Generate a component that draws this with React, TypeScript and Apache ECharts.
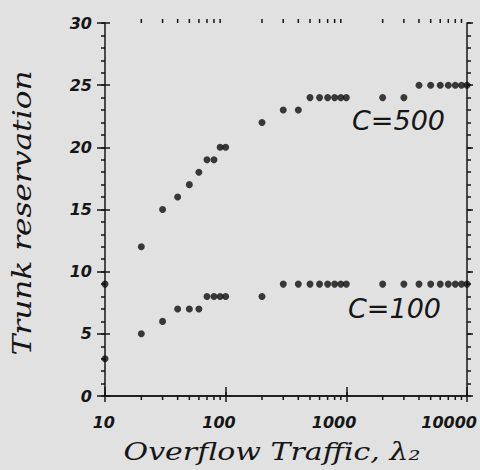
import React, { useEffect, useRef } from "react";
import * as echarts from "echarts";

// Overflow traffic (x, log scale)
const traffic = [
  10, 20, 30, 40, 50, 60, 70, 80, 90, 100,
  200, 300, 400, 500, 600, 700, 800, 900, 1000,
  2000, 3000, 4000, 5000, 6000, 7000, 8000, 9000, 10000,
];
// Trunk reservation for C=500
const reservationC500 = [
  9, 12, 15, 16, 17, 18, 19, 19, 20, 20,
  22, 23, 23, 24, 24, 24, 24, 24, 24,
  24, 24, 25, 25, 25, 25, 25, 25, 25,
];
// Trunk reservation for C=100
const reservationC100 = [
  3, 5, 6, 7, 7, 7, 8, 8, 8, 8,
  8, 9, 9, 9, 9, 9, 9, 9, 9,
  9, 9, 9, 9, 9, 9, 9, 9, 9,
];
// Minor (log) tick values on the x axis
const xMinorTicks = [
  20, 30, 40, 50, 60, 70, 80, 90,
  200, 300, 400, 500, 600, 700, 800, 900,
  2000, 3000, 4000, 5000, 6000, 7000, 8000, 9000,
];
const seriesNames = ["C=500", "C=100"];
const xTitle = "Overflow Traffic, λ₂";
const yTitle = "Trunk reservation";

const INK = "#161616";
const tickFont = {
  fontFamily: "DejaVu Sans",
  fontWeight: "bold" as const,
  fontStyle: "italic" as const,
  fontSize: 16,
  color: INK,
};
const line = { color: INK, width: 1.5 };

export default function App() {
  const ref = useRef<HTMLDivElement>(null);
  useEffect(() => {
    document.body.style.margin = "0";
    const chart = echarts.init(ref.current!, null, { renderer: "svg" });
    const logAxisBase = {
      type: "log" as const,
      logBase: 10,
      min: 10,
      max: 10000,
      splitLine: { show: false },
      minorTick: { show: false },
      minorSplitLine: { show: false },
    };
    const valAxisBase = {
      type: "value" as const,
      min: 0,
      max: 30,
      splitLine: { show: false },
      minorTick: { show: false },
    };
    chart.setOption({
      animation: false,
      backgroundColor: "#e1e1e1",
      grid: { left: 105, right: 9, top: 23, bottom: 74 },
      xAxis: [
        {
          ...logAxisBase,
          position: "bottom",
          axisLine: { show: true, lineStyle: line },
          axisTick: { show: true, inside: false, length: 6, lineStyle: line },
          axisLabel: {
            ...tickFont,
            margin: 18,
            align: "right",
            padding: [0, -10, 0, 0],
            formatter: (v: number) => String(Math.round(v)),
          },
        },
        {
          ...logAxisBase,
          position: "top",
          axisLine: { show: true, lineStyle: line },
          axisTick: { show: true, inside: false, length: 9, lineStyle: line },
          axisLabel: { show: false },
        },
        {
          ...logAxisBase,
          position: "bottom",
          axisLine: { show: false },
          axisTick: { show: true, inside: true, length: 4, lineStyle: line },
          axisLabel: { show: false },
        },
      ],
      yAxis: [
        {
          ...valAxisBase,
          interval: 5,
          position: "left",
          axisLine: { show: true, lineStyle: line },
          axisTick: { show: true, inside: false, length: 8, lineStyle: line },
          axisLabel: { ...tickFont, margin: 13 },
        },
        {
          ...valAxisBase,
          interval: 5,
          position: "left",
          axisLine: { show: false },
          axisTick: { show: true, inside: true, length: 5, lineStyle: line },
          axisLabel: { show: false },
        },
        {
          ...valAxisBase,
          interval: 1,
          position: "left",
          axisLine: { show: false },
          axisTick: { show: true, inside: false, length: 4, lineStyle: line },
          axisLabel: { show: false },
        },
        {
          ...valAxisBase,
          interval: 5,
          position: "right",
          axisLine: { show: true, lineStyle: line },
          axisTick: { show: true, inside: false, length: 6, lineStyle: line },
          axisLabel: { show: false },
        },
        {
          ...valAxisBase,
          interval: 1,
          position: "right",
          axisLine: { show: false },
          axisTick: { show: true, inside: false, length: 4, lineStyle: line },
          axisLabel: { show: false },
        },
      ],
      series: [
        {
          name: "xMinorTicks",
          type: "custom",
          xAxisIndex: 0,
          yAxisIndex: 0,
          clip: false,
          silent: true,
          data: xMinorTicks.map((v) => [v, 0]),
          renderItem: (_params: any, api: any) => {
            const v = api.value(0);
            const b = api.coord([v, 0]);
            const t = api.coord([v, 30]);
            const st = { stroke: INK, lineWidth: 1.5 };
            return {
              type: "group",
              children: [
                { type: "line", shape: { x1: b[0], y1: b[1], x2: b[0], y2: b[1] + 4 }, style: st },
                { type: "line", shape: { x1: t[0], y1: t[1], x2: t[0], y2: t[1] - 4 }, style: st },
              ],
            };
          },
        },
        {
          name: seriesNames[0],
          type: "scatter",
          xAxisIndex: 0,
          yAxisIndex: 0,
          symbolSize: 7,
          itemStyle: { color: "#0e0e0e" },
          data: traffic.map((x, i) => [x, reservationC500[i]]),
        },
        {
          name: seriesNames[1],
          type: "scatter",
          xAxisIndex: 0,
          yAxisIndex: 0,
          symbolSize: 7,
          itemStyle: { color: "#0e0e0e" },
          data: traffic.map((x, i) => [x, reservationC100[i]]),
        },
      ],
      graphic: [
        {
          type: "text",
          x: 352,
          y: 120,
          style: {
            text: seriesNames[0],
            fontFamily: "DejaVu Sans",
            fontStyle: "italic",
            fontSize: 27,
            fill: INK,
            verticalAlign: "middle",
          },
        },
        {
          type: "text",
          x: 348,
          y: 308,
          style: {
            text: seriesNames[1],
            fontFamily: "DejaVu Sans",
            fontStyle: "italic",
            fontSize: 27,
            fill: INK,
            verticalAlign: "middle",
          },
        },
        {
          type: "text",
          x: 272,
          y: 452,
          scaleX: 1.25,
          style: {
            text: xTitle,
            fontFamily: "DejaVu Serif",
            fontStyle: "italic",
            fontSize: 24,
            fill: INK,
            align: "center",
            verticalAlign: "middle",
          },
        },
        {
          type: "text",
          x: 22,
          y: 213,
          rotation: Math.PI / 2,
          scaleX: 1.2,
          style: {
            text: yTitle,
            fontFamily: "DejaVu Serif",
            fontStyle: "italic",
            fontSize: 26,
            fill: INK,
            align: "center",
            verticalAlign: "middle",
          },
        },
      ],
    });
    return () => chart.dispose();
  }, []);
  return (
    <div
      ref={ref}
      style={{ position: "fixed", left: 0, top: 0, width: 480, height: 470 }}
    />
  );
}
